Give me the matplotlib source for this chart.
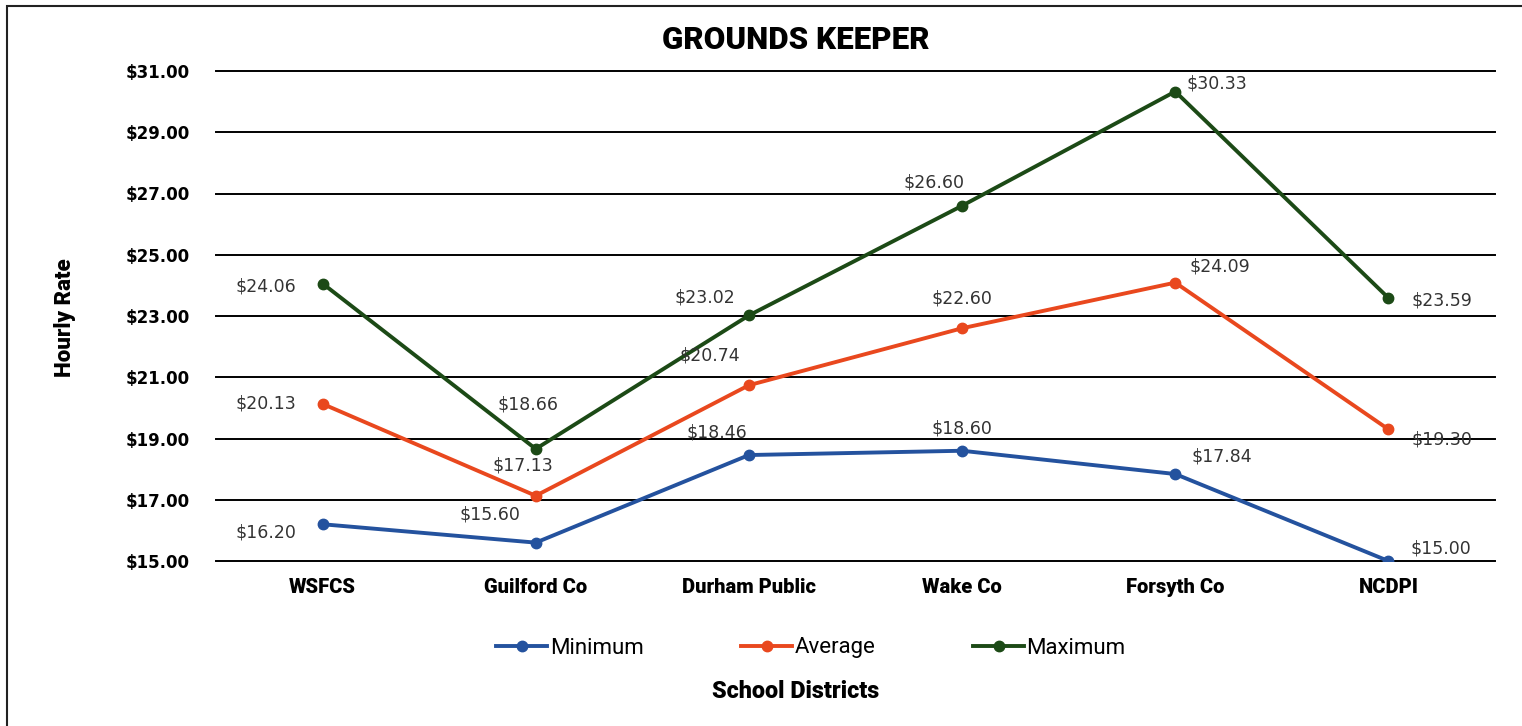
import matplotlib.pyplot as plt
from matplotlib.patches import Rectangle

districts = ["WSFCS", "Guilford Co", "Durham Public", "Wake Co", "Forsyth Co", "NCDPI"]
minimum = [16.20, 15.60, 18.46, 18.60, 17.84, 15.00]
average = [20.13, 17.13, 20.74, 22.60, 24.09, 19.30]
maximum = [24.06, 18.66, 23.02, 26.60, 30.33, 23.59]
y_ticks = [15, 17, 19, 21, 23, 25, 27, 29, 31]

# label offsets in pixels (dx, dy) for each point
min_off = [(-57, -8), (-46, 28), (-32, 23), (0, 22), (47, 18), (52, 13)]
avg_off = [(-57, 0), (-13, 30), (-39, 30), (0, 30), (45, 16), (54, -10)]
max_off = [(-57, -3), (-8, 44), (-44, 18), (-28, 23), (42, 8), (54, -3)]

plt.rcParams['font.family'] = ['DejaVu Sans']

fig = plt.figure(figsize=(15.22, 7.26), dpi=100)
ax = fig.add_axes([216/1522, 1-561/726, 1279/1522, 490/726])

# frame around the whole picture
fig.patches.append(Rectangle((7/1522, -0.01), 1.1, 1-6/726+0.01, transform=fig.transFigure,
                             fill=False, edgecolor="#222222", linewidth=1.5))

x = list(range(len(districts)))
series = [("Minimum", minimum, "#24529E", min_off),
          ("Average", average, "#E9481E", avg_off),
          ("Maximum", maximum, "#1C4A16", max_off)]

for name, vals, col, offs in series:
    ax.plot(x, vals, color=col, linewidth=2.8, marker="o", markersize=7.5, label=name, zorder=3)
    for xi, v, (dx, dy) in zip(x, vals, offs):
        ax.annotate(f"${v:.2f}", (xi, v), xytext=(dx, dy), textcoords="offset pixels",
                    ha="center", va="center", fontsize=12.5, color="#333333", zorder=4)

ax.set_xlim(-0.5, 5.5)
ax.set_ylim(15, 31)
ax.set_yticks(y_ticks)
ax.set_yticklabels([f"${t:.2f}" for t in y_ticks], fontsize=12, fontweight="bold")
ax.set_xticks(x)
ax.set_xticklabels(districts, fontsize=14.5, fontweight="heavy", family=["Roboto", "DejaVu Sans"])
ax.tick_params(axis="y", length=0, pad=19)
ax.tick_params(axis="x", length=0, pad=12)
for t in y_ticks:
    ax.axhline(t, color="black", linewidth=1.4, zorder=1, clip_on=False)
for s in ax.spines.values():
    s.set_visible(False)

fig.text(796/1522, 1-40/726, "GROUNDS KEEPER", ha="center", va="center",
         fontsize=22.5, fontweight="heavy", family=["Roboto", "DejaVu Sans"])
fig.text(65/1522, 1-318/726, "Hourly Rate", ha="center", va="center", rotation=90,
         fontsize=16, fontweight="heavy", family=["Roboto", "DejaVu Sans"])
fig.text(796/1522, 1-692/726, "School Districts", ha="center", va="center",
         fontsize=16.8, fontweight="heavy", family=["Roboto", "DejaVu Sans"])

fig.legend(loc="center", bbox_to_anchor=(811/1522, 1-648/726), ncol=3, frameon=False,
           handlelength=2.3, handletextpad=0.1, columnspacing=4.4,
           prop={"family": ["Roboto", "DejaVu Sans"], "size": 16})

fig.savefig("out.png", dpi=100, facecolor="white")
